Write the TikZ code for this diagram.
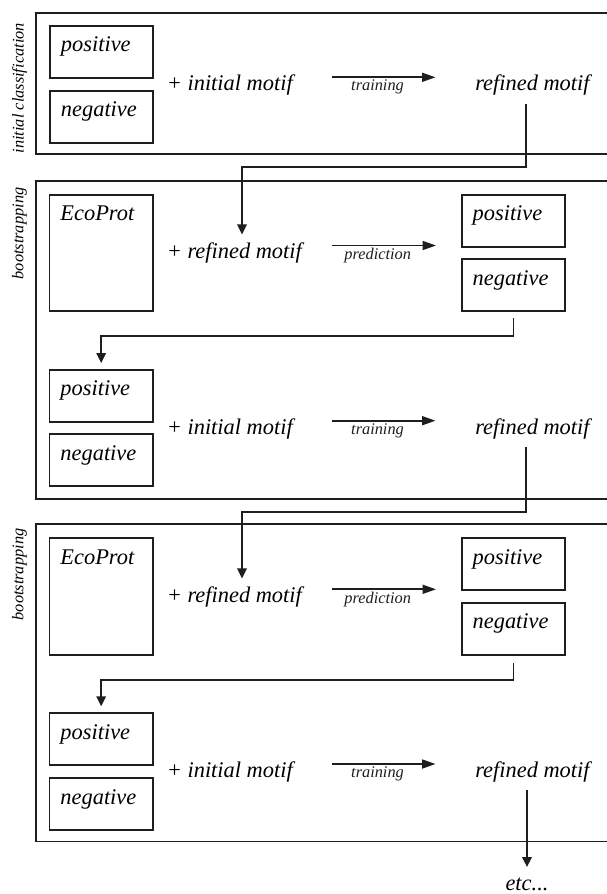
\documentclass[tikz,border=0pt]{standalone}
\usepackage{fontspec}
\setmainfont{Liberation Serif}
\usepackage{tikz}
\usetikzlibrary{arrows.meta}
\definecolor{EPInk}{HTML}{1E1E1E}
\newcommand{\bigit}{\fontsize{12.75}{15}\selectfont\itshape}
\newcommand{\smallit}{\fontsize{9.3}{11}\selectfont\itshape}
\tikzset{
  frame/.style={EPInk,line width=1.1pt},
  setbox/.style={draw=EPInk,line width=1.1pt,anchor=north west,text width=1.63cm,align=left,
    inner xsep=0.22cm,inner ysep=0.08cm,text height=0.44cm,text depth=0.44cm,font=\bigit},
  ecobox/.style={setbox,text depth=1.73cm},
  phrase/.style={anchor=base west,inner xsep=0pt,inner ysep=0.16cm,font=\bigit},
  tag/.style={below,pos=.44,inner sep=1pt,font=\smallit},
  side/.style={rotate=90,anchor=east,inner sep=1pt,font=\smallit},
  flow/.style={EPInk,line width=1pt,-{Triangle[length=0.27cm,width=0.18cm]}},
  drop/.style={EPInk,line width=1pt,-{Triangle[length=0.2cm,width=0.19cm]}}
}

\begin{document}
\begin{tikzpicture}[x=0.02cm,y=-0.02cm]
\path[use as bounding box] (0,0) rectangle (607,894);
% initial classification
\draw[frame] (607,12.7) -| (36,154.3) -- (607,154.3);
\node[side] (lab1) at (19.5,21) {initial classification};
\node[setbox] (pos1) at (49,25) {positive};
\node[setbox] (neg1) at (49,90) {negative};
\node[phrase] (im1) at (166.5,90.7) {+ initial motif};
\node[phrase] (rf1) at (475,90.7) {refined motif};
\coordinate (t1a) at (332,77.3);
\coordinate (t1b) at (435.5,77.3);
\draw[flow] (t1a) -- node[tag] (tr1) {training} (t1b);
% first bootstrapping round
\draw[frame] (607,181) -| (36,499) -- (607,499);
\node[side] (lab2) at (19.5,185.5) {bootstrapping};
\node[ecobox] (eco2) at (48.5,194) {EcoProt};
\node[phrase] (rm2) at (166.5,258.5) {+ refined motif};
\coordinate (p2a) at (332,245.5);
\coordinate (p2b) at (436,245.5);
\draw[flow] (p2a) -- node[tag] (pr2) {prediction} (p2b);
\node[setbox] (rpos2) at (460.7,194) {positive};
\node[setbox] (rneg2) at (460.7,258.3) {negative};
\node[setbox] (pos2) at (48.5,369) {positive};
\node[setbox] (neg2) at (48.5,433.3) {negative};
\node[phrase] (im2) at (166.5,434) {+ initial motif};
\node[phrase] (rf2) at (475,434) {refined motif};
\coordinate (t2a) at (332,420.7);
\coordinate (t2b) at (435.5,420.7);
\draw[flow] (t2a) -- node[tag] (tr2) {training} (t2b);
% second bootstrapping round
\draw[frame] (607,524) -| (36,841.5) -- (607,841.5);
\node[side] (lab3) at (19.5,526.5) {bootstrapping};
\node[ecobox] (eco3) at (48.5,537.3) {EcoProt};
\node[phrase] (rm3) at (166.5,602.5) {+ refined motif};
\coordinate (p3a) at (332,589.3);
\coordinate (p3b) at (436,589.3);
\draw[flow] (p3a) -- node[tag] (pr3) {prediction} (p3b);
\node[setbox] (rpos3) at (460.7,537.3) {positive};
\node[setbox] (rneg3) at (460.7,602) {negative};
\node[setbox] (pos3) at (48.5,712.3) {positive};
\node[setbox] (neg3) at (48.5,777.3) {negative};
\node[phrase] (im3) at (166.5,777) {+ initial motif};
\node[phrase] (rf3) at (475,777) {refined motif};
\coordinate (t3a) at (332,764);
\coordinate (t3b) at (435.5,764);
\draw[flow] (t3a) -- node[tag] (tr3) {training} (t3b);
\node[phrase,anchor=base,inner ysep=0.2cm] (etc) at (527,890) {etc...};
% hand-over between rounds
\coordinate (k1) at (526,167.3);
\coordinate (k2) at (242,167.3);
\draw[drop] (rf1.south -| k1) -- (k1) -- (k2) -- (k2 |- rm2.north);
\coordinate (k3) at (300,335.7);
\draw[drop,shorten <=0.12cm,shorten >=0.12cm] (rneg2.south) |- (k3) -| (pos2.north);
\coordinate (k4) at (526,511.7);
\coordinate (k5) at (242,511.7);
\draw[drop] (rf2.south -| k4) -- (k4) -- (k5) -- (k5 |- rm3.north);
\coordinate (k6) at (300,680);
\draw[drop,shorten <=0.14cm,shorten >=0.12cm] (rneg3.south) |- (k6) -| (pos3.north);
\draw[drop] (rf3.south -| etc.north) -- (etc.north);
\end{tikzpicture}
\end{document}
